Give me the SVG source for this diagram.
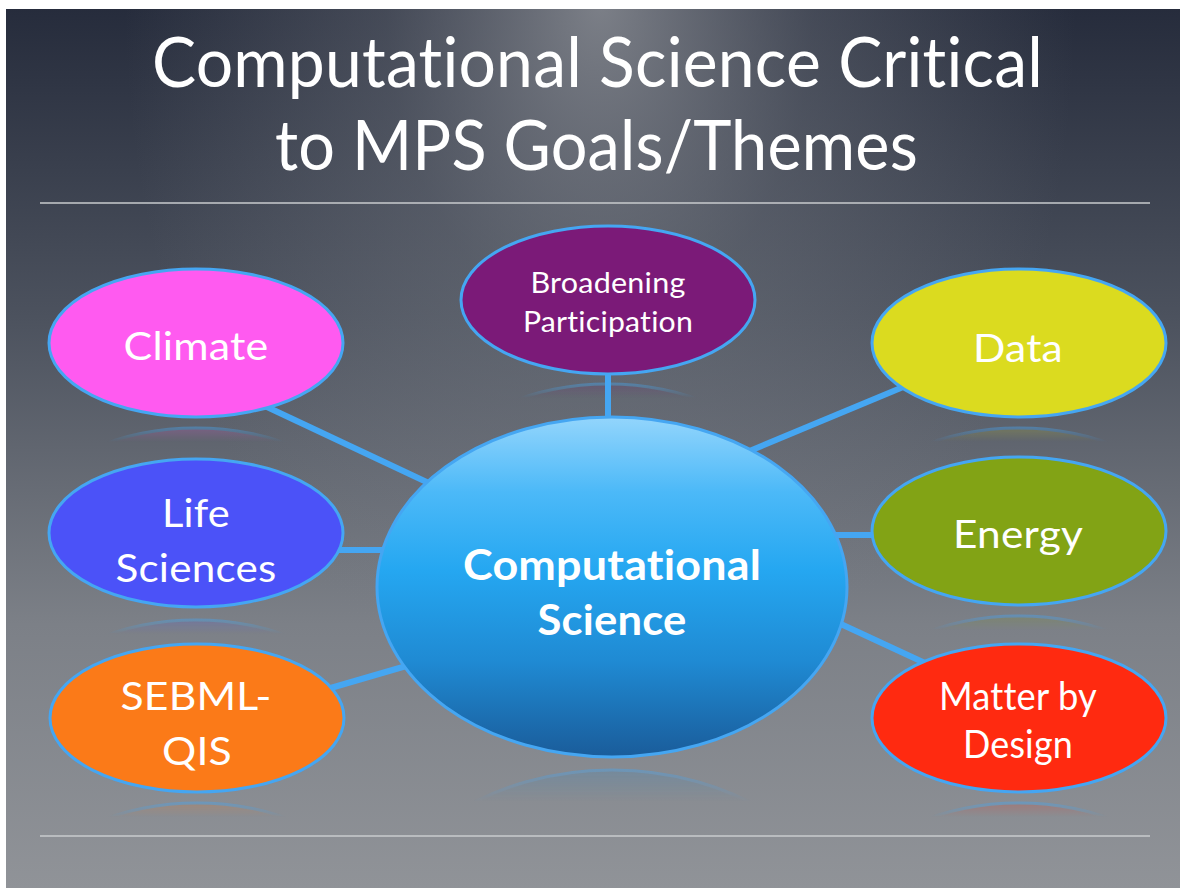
<svg xmlns="http://www.w3.org/2000/svg" width="1180" height="888" viewBox="0 0 1180 888">
  <style>
    text { font-variant-ligatures: none; font-feature-settings: "liga" 0, "clig" 0, "dlig" 0; letter-spacing: 0.2px; }
    .title { font-family: Lato, "Liberation Sans", sans-serif; font-size: 70px; fill: #ffffff; }
    .lbl { font-family: Lato, "Liberation Sans", sans-serif; font-size: 39px; fill: #ffffff; text-anchor: middle; }
    .lbl-s { font-family: Lato, "Liberation Sans", sans-serif; font-size: 28px; fill: #ffffff; text-anchor: middle; }
    .lbl-c { font-family: Lato, "Liberation Sans", sans-serif; font-size: 42px; font-weight: bold; fill: #ffffff; text-anchor: middle; }
    .node { stroke: #45a6f2; stroke-width: 3; }
    .link { stroke: #45a6f2; stroke-width: 6; stroke-linecap: butt; }
    .rule { stroke: #c9cbce; stroke-width: 1.5; }
    .refl { stroke: #45a6f2; stroke-width: 3; fill-opacity: 0.45; }
  </style>
  <defs>
    <linearGradient id="bgV" x1="0" y1="0" x2="0" y2="1">
      <stop offset="0" stop-color="#262c3c"/>
      <stop offset="0.35" stop-color="#4c525e"/>
      <stop offset="0.7" stop-color="#7c8087"/>
      <stop offset="1" stop-color="#909398"/>
    </linearGradient>
    <radialGradient id="bgSpot" cx="600" cy="0" r="560" gradientUnits="userSpaceOnUse" gradientTransform="translate(600 0) scale(0.85 1.3) translate(-600 0)">
      <stop offset="0" stop-color="#92959b" stop-opacity="0.8"/>
      <stop offset="0.45" stop-color="#7d8189" stop-opacity="0.35"/>
      <stop offset="1" stop-color="#7d8189" stop-opacity="0"/>
    </radialGradient>
    <linearGradient id="hubFill" x1="0" y1="0" x2="0" y2="1">
      <stop offset="0" stop-color="#93d5fc"/>
      <stop offset="0.22" stop-color="#4cb9f8"/>
      <stop offset="0.45" stop-color="#25a7f1"/>
      <stop offset="0.72" stop-color="#1f8ad3"/>
      <stop offset="1" stop-color="#1a5c9a"/>
    </linearGradient>
    <linearGradient id="fade" x1="0" y1="0" x2="0" y2="1">
      <stop offset="0" stop-color="#ffffff" stop-opacity="0.6"/>
      <stop offset="0.13" stop-color="#ffffff" stop-opacity="0"/>
      <stop offset="1" stop-color="#ffffff" stop-opacity="0"/>
    </linearGradient>
    <mask id="reflMask" maskContentUnits="objectBoundingBox">
      <rect x="0" y="-0.05" width="1" height="1.1" fill="url(#fade)"/>
    </mask>
  </defs>

  <!-- slide background -->
  <rect x="0" y="0" width="1180" height="888" fill="#ffffff"/>
  <rect x="6" y="9" width="1174" height="879" fill="url(#bgV)"/>
  <rect x="6" y="9" width="1174" height="879" fill="url(#bgSpot)"/>

  <!-- title -->
  <g id="title">
    <text class="title" x="152" y="87" textLength="891" lengthAdjust="spacingAndGlyphs">Computational Science Critical</text>
    <text class="title" x="275" y="170" textLength="643" lengthAdjust="spacingAndGlyphs">to MPS Goals/Themes</text>
  </g>
  <line class="rule" x1="40" y1="203" x2="1150" y2="203"/>
  <line class="rule" x1="40" y1="836" x2="1150" y2="836"/>

  <!-- floor reflections under each ellipse -->
  <g id="reflections">
    <ellipse class="refl" cx="608" cy="458" rx="147" ry="74" fill="#7b1a78" mask="url(#reflMask)"/>
    <ellipse class="refl" cx="196" cy="502" rx="147" ry="74" fill="#ff5af0" mask="url(#reflMask)"/>
    <ellipse class="refl" cx="196" cy="694" rx="147" ry="74" fill="#4b52f8" mask="url(#reflMask)"/>
    <ellipse class="refl" cx="197" cy="877" rx="147" ry="74" fill="#fb7a18" mask="url(#reflMask)"/>
    <ellipse class="refl" cx="1019" cy="502" rx="147" ry="74" fill="#dbdb1f" mask="url(#reflMask)"/>
    <ellipse class="refl" cx="1019" cy="690" rx="147" ry="74" fill="#82a315" mask="url(#reflMask)"/>
    <ellipse class="refl" cx="1019" cy="877" rx="147" ry="74" fill="#ff2a10" mask="url(#reflMask)"/>
    <ellipse class="refl" cx="612" cy="940" rx="235" ry="170" fill="#1f8ad3" mask="url(#reflMask)"/>
  </g>

  <!-- connectors -->
  <g id="connectors">
    <line class="link" x1="608" y1="370" x2="608" y2="422"/>
    <line class="link" x1="250" y1="399" x2="450" y2="493"/>
    <line class="link" x1="330" y1="550" x2="400" y2="550"/>
    <line class="link" x1="310" y1="694" x2="420" y2="662"/>
    <line class="link" x1="740" y1="455" x2="920" y2="380"/>
    <line class="link" x1="825" y1="535" x2="885" y2="535"/>
    <line class="link" x1="830" y1="619" x2="940" y2="670"/>
  </g>

  <!-- hub -->
  <g id="computational-science">
    <ellipse class="node" cx="612" cy="587" rx="235" ry="170" fill="url(#hubFill)"/>
    <text class="lbl-c" x="612" y="580" textLength="298" lengthAdjust="spacingAndGlyphs">Computational</text>
    <text class="lbl-c" x="612" y="635" textLength="149" lengthAdjust="spacingAndGlyphs">Science</text>
  </g>

  <!-- themes -->
  <g id="broadening-participation">
    <ellipse class="node" cx="608" cy="300" rx="147" ry="74" fill="#7b1a78"/>
    <text class="lbl-s" x="608" y="293" textLength="155" lengthAdjust="spacingAndGlyphs">Broadening</text>
    <text class="lbl-s" x="608" y="332" textLength="170" lengthAdjust="spacingAndGlyphs">Participation</text>
  </g>

  <g id="climate">
    <ellipse class="node" cx="196" cy="343" rx="147" ry="74" fill="#ff5af0"/>
    <text class="lbl" x="196" y="360" textLength="145" lengthAdjust="spacingAndGlyphs">Climate</text>
  </g>

  <g id="life-sciences">
    <ellipse class="node" cx="196" cy="533" rx="147" ry="74" fill="#4b52f8"/>
    <text class="lbl" x="196" y="527" textLength="68" lengthAdjust="spacingAndGlyphs">Life</text>
    <text class="lbl" x="196" y="582" textLength="161" lengthAdjust="spacingAndGlyphs">Sciences</text>
  </g>

  <g id="sebml-qis">
    <ellipse class="node" cx="197" cy="718" rx="147" ry="74" fill="#fb7a18"/>
    <text class="lbl" x="196" y="710" textLength="151" lengthAdjust="spacingAndGlyphs">SEBML-</text>
    <text class="lbl" x="197" y="765" textLength="70" lengthAdjust="spacingAndGlyphs">QIS</text>
  </g>

  <g id="data">
    <ellipse class="node" cx="1019" cy="343" rx="147" ry="74" fill="#dbdb1f"/>
    <text class="lbl" x="1018" y="362" textLength="90" lengthAdjust="spacingAndGlyphs">Data</text>
  </g>

  <g id="energy">
    <ellipse class="node" cx="1019" cy="531" rx="147" ry="74" fill="#82a315"/>
    <text class="lbl" x="1018" y="548" textLength="130" lengthAdjust="spacingAndGlyphs">Energy</text>
  </g>

  <g id="matter-by-design">
    <ellipse class="node" cx="1019" cy="718" rx="147" ry="74" fill="#ff2a10"/>
    <text class="lbl" x="1018" y="710" textLength="158" lengthAdjust="spacingAndGlyphs">Matter by</text>
    <text class="lbl" x="1018" y="758" textLength="110" lengthAdjust="spacingAndGlyphs">Design</text>
  </g>
</svg>
